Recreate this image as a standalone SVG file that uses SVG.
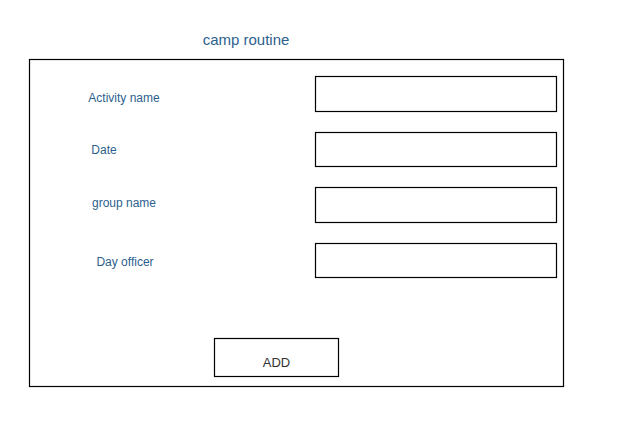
<svg xmlns="http://www.w3.org/2000/svg" width="622" height="424" viewBox="0 0 622 424">
<style>
.box{fill:#fff;stroke:#000;stroke-width:1.2}
.lbl{font-family:"Liberation Sans",Arial,sans-serif;font-size:12px;fill:#2d5f8e}
.title{font-family:"Liberation Sans",Arial,sans-serif;font-size:15px;fill:#2d5f8e}
.btn{font-family:"Liberation Sans",Arial,sans-serif;font-size:13px;fill:#333}
</style>
<rect width="622" height="424" fill="#fff"/>
<g id="title"><text class="title" x="246" y="45" text-anchor="middle">camp routine</text></g>
<g id="form"><rect class="box" x="29.5" y="59.5" width="534" height="327"/></g>
<g id="activity-name">
<text class="lbl" x="124" y="102" text-anchor="middle">Activity name</text>
<rect class="box" x="315.5" y="76.5" width="241" height="35"/>
</g>
<g id="date">
<text class="lbl" x="104" y="154" text-anchor="middle">Date</text>
<rect class="box" x="315.5" y="132.5" width="241" height="34"/>
</g>
<g id="group-name">
<text class="lbl" x="124" y="207" text-anchor="middle">group name</text>
<rect class="box" x="315.5" y="187.5" width="241" height="35"/>
</g>
<g id="day-officer">
<text class="lbl" x="125" y="266" text-anchor="middle">Day officer</text>
<rect class="box" x="315.5" y="243.5" width="241" height="34"/>
</g>
<g id="add-button">
<rect class="box" x="214.5" y="338.5" width="124" height="38"/>
<text class="btn" x="276.5" y="367" text-anchor="middle">ADD</text>
</g>
<g id="connectors"></g>
</svg>
